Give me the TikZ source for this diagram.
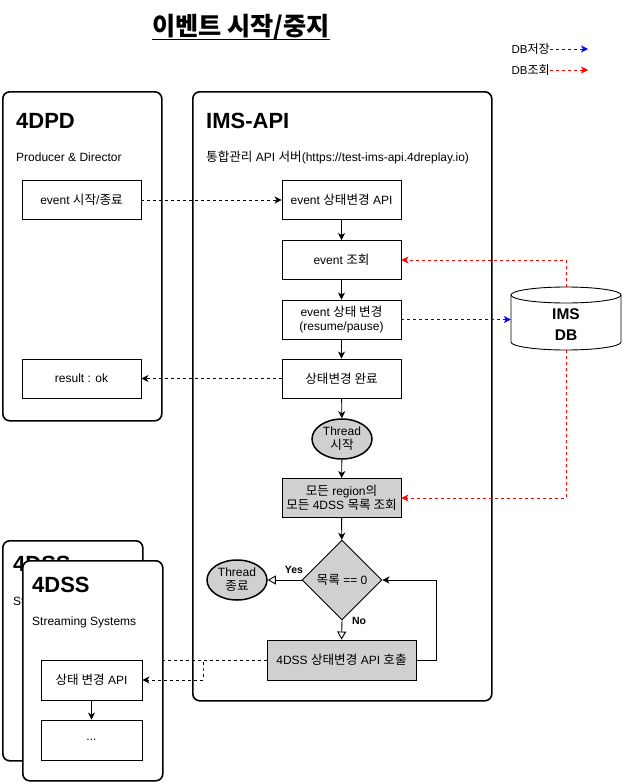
\documentclass[tikz,border=0pt]{standalone}
\usepackage{fontspec}
\setmainfont{Liberation Sans}
\newfontfamily\kr{Noto Sans CJK KR}[Scale=1.05]
\newcommand\K[1]{{\kr #1}}
\usetikzlibrary{shapes.geometric,arrows.meta,calc}
\definecolor{boxgray}{HTML}{D0D0D0}

\begin{document}
\begin{tikzpicture}[x=1pt,y=-1pt,
  font=\fontsize{12}{14}\selectfont,
  container/.style={draw, line width=1.6pt, rounded corners=7pt, fill=white, anchor=north west, inner sep=0pt},
  proc/.style={draw, line width=0.9pt, minimum width=119pt, minimum height=39pt, align=center, inner sep=2pt, fill=white},
  gproc/.style={proc, fill=boxgray},
  thread/.style={ellipse, draw, line width=1.5pt, fill=boxgray, minimum width=60pt, minimum height=40pt, inner sep=0pt, align=center},
  decision/.style={diamond, draw, line width=0.9pt, fill=boxgray, minimum width=80pt, minimum height=80pt, inner sep=0pt},
  bigtitle/.style={anchor=base west, font=\bfseries\fontsize{22}{26}\selectfont, inner sep=0pt},
  subtitle/.style={anchor=base west, font=\fontsize{12}{14}\selectfont, inner sep=0pt},
  flow/.style={line width=0.9pt, -{Stealth[length=7pt,width=7pt,inset=2pt]}},
  dashflow/.style={flow, dash pattern=on 3pt off 3pt},
  openflow/.style={line width=0.9pt, -{Triangle[open,length=8pt,width=9pt,fill=white]}},
  lbl/.style={font=\bfseries\fontsize{10.5}{12}\selectfont, inner sep=0pt}
]
\useasboundingbox (0,0) rectangle (622,782);

% heading
\node[font=\kr\bfseries\fontsize{24}{28}\selectfont, anchor=base, inner sep=0pt] (title) at (241,35) {이벤트 시작/중지};
\draw[line width=1.6pt] ([yshift=-4.5pt]title.base west) -- ([yshift=-4.5pt]title.base east);

% legend
\node[anchor=east, font=\fontsize{11.5}{13}\selectfont, inner sep=0pt] (lsave) at (550,49) {DB\K{저장}};
\coordinate (lsaveend) at (588,49);
\draw[dashflow, blue] (lsave.east) -- (lsaveend);
\node[anchor=east, font=\fontsize{11.5}{13}\selectfont, inner sep=0pt] (lread) at (550,70) {DB\K{조회}};
\coordinate (lreadend) at (588,70);
\draw[dashflow, red] (lread.east) -- (lreadend);

% 4DPD
\node[container, minimum width=159pt, minimum height=329pt] (pd) at (2,91) {};
\node[bigtitle] (pdtitle) at (16,128) {4DPD};
\node[subtitle] (pdsub) at (16,161) {Producer \& Director};
\node[proc] (start) at (81.5,200) {event \K{시작}/\K{종료}};
\node[proc] (result) at (81.5,378.5) {result : ok};

% IMS-API
\node[container, minimum width=299pt, minimum height=609pt] (ims) at (192,91) {};
\node[bigtitle] (imstitle) at (206,128) {IMS-API};
\node[subtitle] (imssub) at (206,161) {\K{통합관리} API \K{서버}(https://test-ims-api.4dreplay.io)};

\node[proc] (api) at (341.5,200) {event \K{상태변경} API};
\node[proc] (query) at (341.5,260) {event \K{조회}};
\node[proc] (change) at (341.5,319.5) {event \K{상태 변경}\\(resume/pause)};
\node[proc] (done) at (341.5,378.5) {\K{상태변경 완료}};
\node[thread] (tstart) at (342,439) {Thread\\\K{시작}};
\node[gproc] (list) at (341.5,498) {\K{모든} region\K{의}\\\K{모든} 4DSS \K{목록 조회}};
\node[decision] (cond) at (342,580) {\K{목록} == 0};
\node[thread] (tend) at (237,580) {Thread\\\K{종료}};
\node[gproc, minimum width=149pt, minimum height=40pt] (call) at (341.5,660) {4DSS \K{상태변경} API \K{호출}};

% IMS DB
\node[minimum width=110pt, minimum height=63pt, inner sep=0pt] (db) at (566,318.5) {};
\draw[line width=0.9pt, fill=white] (511,295) -- (511,342) arc[start angle=180, end angle=360, x radius=55pt, y radius=8pt] -- (621,295);
\draw[line width=0.9pt, fill=white] (566,295) ellipse[x radius=55pt, y radius=8pt];
\node[font=\bfseries\fontsize{15.5}{21}\selectfont, align=center, inner sep=0pt] (dblbl) at (566,325) {IMS\\DB};

% 4DSS (stacked)
\node[container, minimum width=140pt, minimum height=220pt] (ssback) at (2,540) {};
\node[bigtitle] (ssbacktitle) at (13,571) {4DSS};
\node[subtitle] (ssbacksub) at (13,605) {Streaming Systems};
\coordinate (backapi) at (121,660);
\draw[line width=0.9pt, dash pattern=on 3pt off 3pt] (call.west) -- (backapi);

\node[container, minimum width=140pt, minimum height=220pt] (ssfront) at (22,560) {};
\node[bigtitle] (sstitle) at (32,592) {4DSS};
\node[subtitle] (sssub) at (32,625) {Streaming Systems};
\node[proc, minimum width=101pt, minimum height=40pt] (ssapi) at (91.5,680) {\K{상태 변경} API};
\node[proc, minimum width=101pt, minimum height=40pt] (dots) at (91.5,740) {...};

% connectors
\draw[dashflow] (start) -- (api);
\draw[dashflow] (done) -- (result);
\draw[dashflow, blue] (change.east) -- (change.east -| db.west);
\draw[dashflow, red] (db.north) |- (query.east);
\draw[dashflow, red] (db.south) |- (list.east);

\draw[flow] (api) -- (query);
\draw[flow] (query) -- (change);
\draw[flow] (change) -- (done);
\draw[flow] (done) -- (tstart);
\draw[flow] (tstart) -- (list);
\draw[flow] (list) -- (cond);

\draw[openflow] (cond.west) -- (tend.east);
\node[lbl] (yes) at (294,570) {Yes};
\draw[openflow] (cond.south) -- (call.north);
\node[lbl] (no) at (359,621) {No};
\draw[flow] (call.east) -- ++(20,0) |- (cond.east);

\coordinate (bend) at (203,670);
\draw[dashflow] (call.west) -| (bend) |- (ssapi.east);
\draw[flow] (ssapi) -- (dots);
\end{tikzpicture}
\end{document}
